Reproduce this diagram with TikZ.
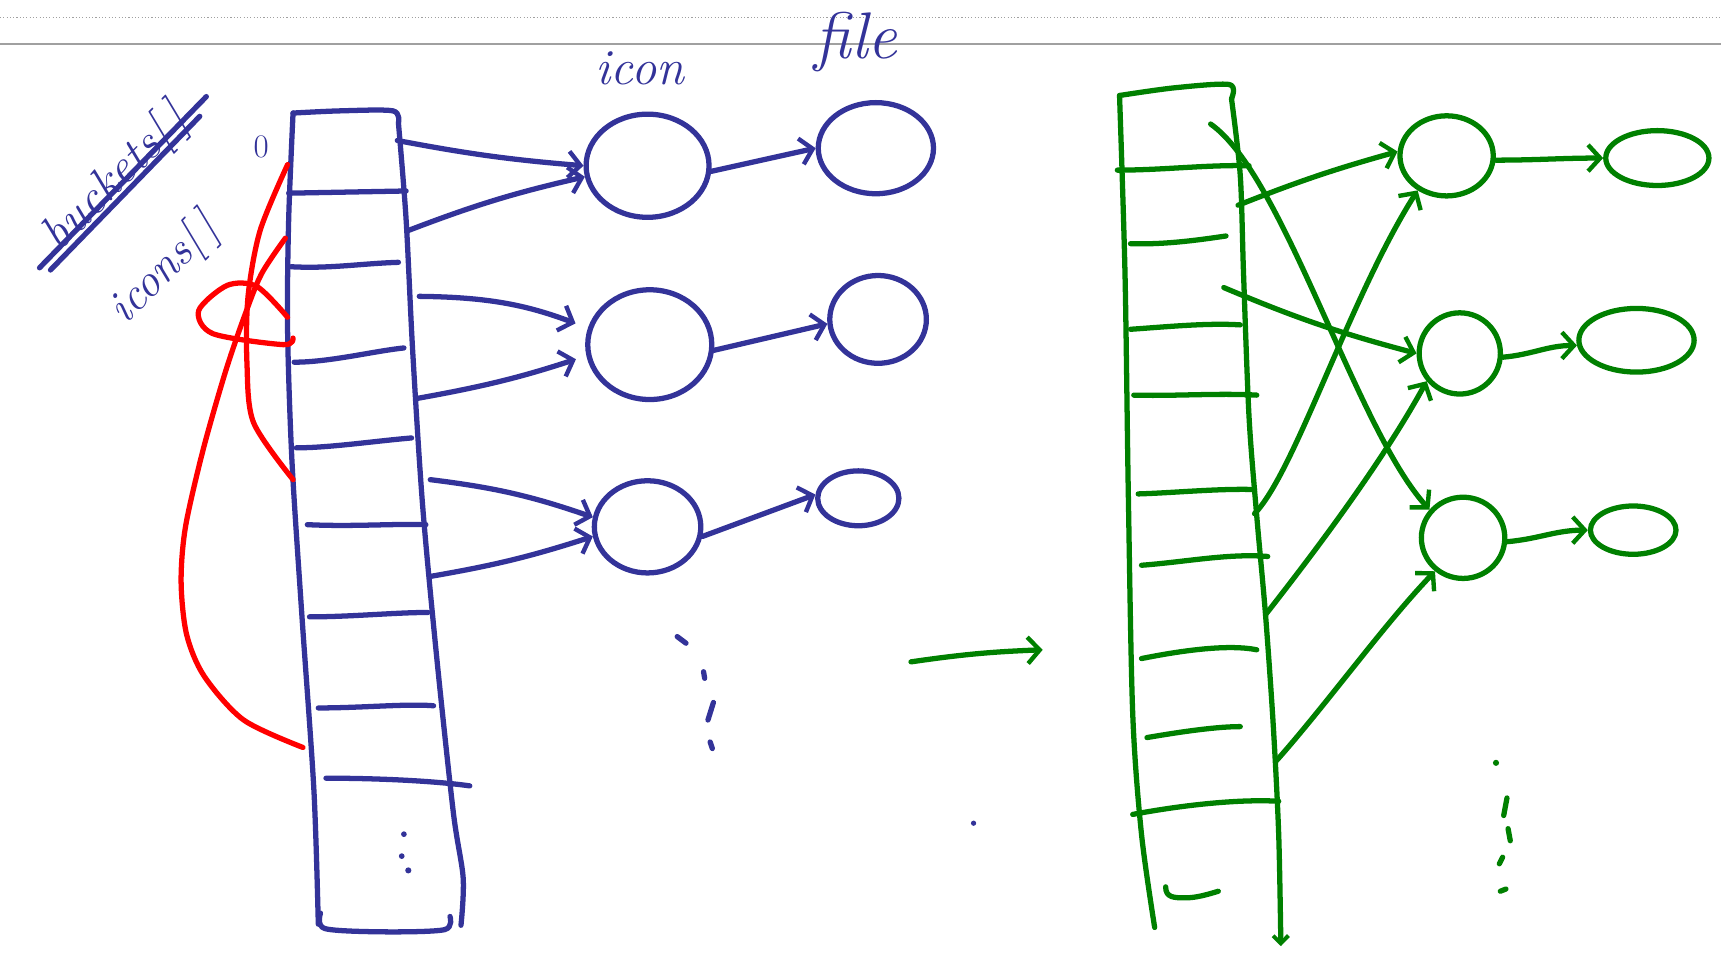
\documentclass[tikz,border=0pt]{standalone}
\usetikzlibrary{arrows.meta,shapes.geometric}
\definecolor{penblue}{RGB}{51,51,153}
\definecolor{pengreen}{RGB}{0,128,0}
\definecolor{penred}{RGB}{255,0,0}
\definecolor{rulegray}{RGB}{160,160,160}
\tikzset{
  pen/.style={line width=4.8pt,line cap=round,line join=round},
  bpen/.style={pen,draw=penblue},
  gpen/.style={pen,draw=pengreen},
  rpen/.style={pen,draw=penred},
  hand/.style={-{Straight Barb[length=11pt,width=24pt,line width=4pt]}},
  bubble/.style={ellipse,inner sep=0pt,line width=4.8pt},
  bicon/.style={bubble,draw=penblue},
  gicon/.style={bubble,draw=pengreen},
  script/.style={text=penblue,font=\itshape},
}
\begin{document}
\begin{tikzpicture}[x=1pt,y=-1pt]
\useasboundingbox[fill=white] (0,0) rectangle (1568,868);
% page rules
\draw[rulegray,line width=0.8pt,dash pattern=on 1pt off 2pt] (0,16) -- (1568,16);
\draw[rulegray,line width=1.6pt] (0,40) -- (1568,40);

% ---------- texts ----------
\node[script,font=\itshape\fontsize{46}{46}\selectfont] (ticon) at (583,62) {icon};
\node[script,font=\itshape\fontsize{60}{60}\selectfont] (tfile) at (780,38) {file};
\node[script,font=\itshape\fontsize{44}{44}\selectfont,rotate=45,inner sep=0pt] (tbuck) at (106,163) {buckets[\,]};
\draw[bpen] (36,244) -- (188,88);
\draw[bpen] (46,246) -- (182,106);
\node[script,font=\itshape\fontsize{42}{42}\selectfont,rotate=45,inner sep=0pt] (ticons) at (150,246) {icons[\,]};
\node[script,font=\fontsize{30}{30}\selectfont] (tzero) at (238,134) {0};

% ---------- blue array ----------
\draw[bpen] plot[smooth] coordinates {(290,842) (286,720) (275,560) (266,420) (262,300) (263,200) (267,103)};
\draw[bpen] plot[smooth] coordinates {(267,103) (310,101) (358,101) (363,112)};
\draw[bpen] plot[smooth] coordinates {(363,112) (370,200) (376,320) (385,460) (398,600) (413,740) (422,800) (420,843)};
\draw[bpen] plot[smooth] coordinates {(292,832) (296,846) (350,849) (405,847) (410,835)};
% dividers
\draw[bpen] (263,176) -- (370,174);
\draw[bpen] (265,243) .. controls (300,245) and (330,240) .. (363,239);
\draw[bpen] (268,330) .. controls (300,330) and (340,320) .. (368,317);
\draw[bpen] (270,408) .. controls (300,408) and (340,402) .. (375,399);
\draw[bpen] (280,478) .. controls (320,480) and (360,477) .. (388,478);
\draw[bpen] (282,562) .. controls (320,562) and (360,558) .. (390,558);
\draw[bpen] (290,645) .. controls (330,645) and (370,641) .. (395,643);
\draw[bpen] (297,709) .. controls (350,709) and (400,712) .. (428,716);
% dots
\fill[penblue] (368,760) circle (2.6pt) (366,780) circle (2.6pt) (372,793) circle (2.8pt);

% ---------- blue icons and files ----------
\node[bicon,minimum width=112pt,minimum height=94pt] (I1) at (590,151) {};
\node[bicon,minimum width=113pt,minimum height=100pt] (I2) at (592,314) {};
\node[bicon,minimum width=97pt,minimum height=84pt] (I3) at (590,480) {};
\node[bicon,minimum width=105pt,minimum height=83pt] (F1) at (798,135) {};
\node[bicon,minimum width=88pt,minimum height=80pt] (F2) at (800,291) {};
\node[bicon,minimum width=74pt,minimum height=50pt] (F3) at (782,454) {};

\coordinate (b1) at (362,128);
\coordinate (b2) at (372,210);
\coordinate (b3) at (382,270);
\coordinate (b4) at (380,363);
\coordinate (b5) at (392,437);
\coordinate (b6) at (393,525);
\draw[bpen,hand] (b1) to[bend right=3] (I1.180);
\draw[bpen,hand] (b2) to[bend left=4] (I1.190);
\draw[bpen,hand,shorten >=12pt] (b3) to[bend left=10] (I2.165);
\draw[bpen,hand,shorten >=10pt] (b4) to[bend right=4] (I2.190);
\draw[bpen,hand] (b5) to[bend left=6] (I3.170);
\draw[bpen,hand] (b6) to[bend right=4] (I3.190);
\draw[bpen,hand] (I1.-5) -- (F1.180);
\draw[bpen,hand] (I2.-5) -- (F2.185);
\draw[bpen,hand] (I3.-10) -- (F3.175);

% blue dashes / dot
\draw[bpen] (617,580) -- (625,586);
\draw[bpen] (641,612) -- (642,618);
\draw[bpen] (650,640) -- (645,656);
\draw[bpen] (647,676) -- (649,682);
\fill[penblue] (887,750) circle (2.4pt);

% ---------- red links ----------
\draw[rpen] plot[smooth] coordinates {(262,150) (237,210) (226,270) (225,331) (231,385) (267,437)};
\draw[rpen] plot[smooth] coordinates {(260,217) (238,250) (222,290) (205,340) (185,410) (169,480) (165,530) (170,578) (186,616) (222,656) (276,681)};
\draw[rpen] plot[smooth] coordinates {(262,289) (234,261) (207,260) (181,283) (194,304) (258,314) (267,308)};

% ---------- big green arrow ----------
\coordinate (m1) at (830,603);
\coordinate (m2) at (950,592);
\draw[gpen,hand] (m1) to[bend left=3] (m2);

% ---------- green array ----------
\draw[gpen] plot[smooth] coordinates {(1052,845) (1040,760) (1032,650) (1028,450) (1025,250) (1020,87)};
\draw[gpen] plot[smooth] coordinates {(1020,87) (1070,80) (1120,77) (1122,90)};
\draw[gpen,-{Straight Barb[length=7pt,width=14pt,line width=3.6pt]}] plot[smooth] coordinates {(1122,90) (1130,160) (1133,250) (1138,380) (1145,470) (1153,560) (1160,660) (1165,760) (1167,862)};
% dividers
\draw[gpen] (1018,155) .. controls (1060,155) and (1100,150) .. (1138,151);
\draw[gpen] (1030,222) .. controls (1060,223) and (1090,219) .. (1117,215);
\draw[gpen] (1030,300) .. controls (1060,298) and (1100,294) .. (1130,296);
\draw[gpen] (1033,360) .. controls (1070,361) and (1110,358) .. (1145,360);
\draw[gpen] (1037,450) .. controls (1070,449) and (1110,445) .. (1143,446);
\draw[gpen] (1040,515) .. controls (1080,512) and (1120,504) .. (1155,507);
\draw[gpen] (1040,600) .. controls (1080,592) and (1120,587) .. (1145,592);
\draw[gpen] (1045,672) .. controls (1080,666) and (1110,662) .. (1130,662);
\draw[gpen] (1032,742) .. controls (1080,733) and (1130,728) .. (1165,730);
\draw[gpen] (1062,808) .. controls (1062,818) and (1070,818) .. (1080,818) .. controls (1090,818) and (1100,815) .. (1110,812);

% ---------- green icons and files ----------
\node[gicon,minimum width=85pt,minimum height=73pt] (A) at (1318,142) {};
\node[gicon,minimum width=74pt,minimum height=74pt] (B) at (1330,322) {};
\node[gicon,minimum width=76pt,minimum height=74pt] (C) at (1333,490) {};
\node[gicon,minimum width=94pt,minimum height=50pt] (A2) at (1510,144) {};
\node[gicon,minimum width=105pt,minimum height=58pt] (B2) at (1491,310) {};
\node[gicon,minimum width=78pt,minimum height=44pt] (C2) at (1488,483) {};

\coordinate (g1) at (1103,113);
\coordinate (g2) at (1128,187);
\coordinate (g3) at (1115,262);
\coordinate (g4) at (1143,468);
\coordinate (g5) at (1153,560);
\coordinate (g6) at (1163,693);
\draw[gpen,hand] (g1) .. controls (1170,160) and (1235,390) .. (C.140);
\draw[gpen,hand] (g2) to[bend left=3] (A.175);
\draw[gpen,hand] (g3) to[bend right=4] (B.180);
\draw[gpen,hand] (g4) .. controls (1180,430) and (1230,270) .. (A.-130);
\draw[gpen,hand] (g5) .. controls (1200,500) and (1260,420) .. (B.-140);
\draw[gpen,hand] (g6) .. controls (1210,640) and (1260,570) .. (C.-130);
\draw[gpen,hand] (A.-5) to[out=0,in=180] (A2.180);
\draw[gpen,hand] (B.-5) to[out=5,in=180] (B2.185);
\draw[gpen,hand] (C.-5) to[out=5,in=180] (C2.180);

% green dashes
\fill[pengreen] (1363,695) circle (2.8pt);
\draw[gpen] (1373,727) -- (1370,743);
\draw[gpen] (1374,755) -- (1376,766);
\draw[gpen] (1369,781) -- (1366,787);
\draw[gpen] (1367,812) -- (1372,810);
\end{tikzpicture}
\end{document}
